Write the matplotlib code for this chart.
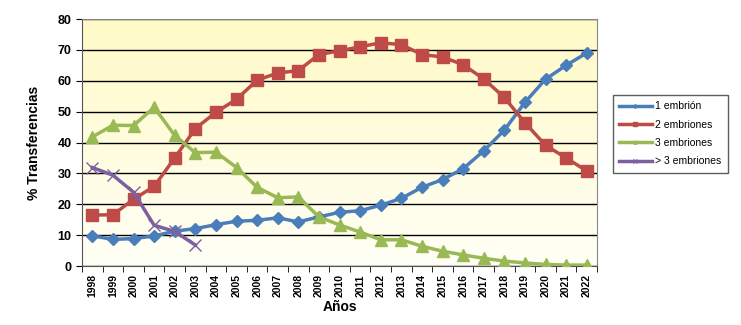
import numpy as np
import matplotlib
matplotlib.use("Agg")
from matplotlib import pyplot as plt

plt.rcParams['font.family'] = ['Liberation Sans', 'DejaVu Sans']

years = [str(y) for y in range(1998, 2023)]
uno = [9.8, 8.6, 8.9, 9.7, 11.3, 12.1, 13.4, 14.5, 14.8, 15.6, 14.3, 15.9, 17.4,
       17.9, 19.7, 21.9, 25.5, 28.0, 31.5, 37.3, 44.0, 53.0, 60.5, 65.0, 69.0]
dos = [16.5, 16.6, 21.6, 25.8, 35.0, 44.5, 49.8, 54.0, 60.2, 62.5, 63.3, 68.5, 69.7,
       71.0, 72.3, 71.7, 68.5, 67.7, 65.2, 60.6, 54.6, 46.4, 39.1, 35.0, 30.8]
tres = [41.8, 45.6, 45.5, 51.4, 42.3, 36.7, 36.9, 31.9, 25.5, 22.1, 22.4, 15.9, 13.3,
        11.0, 8.5, 8.5, 6.4, 4.8, 3.6, 2.5, 1.6, 1.0, 0.5, 0.3, 0.3]
mas3 = [31.9, 29.4, 23.9, 13.2, 11.2, 6.8]
series_names = ['1 embrión', '2 embriones', '3 embriones', '> 3 embriones']

fig = plt.figure(figsize=(7.41, 3.25), dpi=100)
ax = fig.add_axes([0.1107, 0.1815, 0.695, 0.76])

# yellow gradient background, pale yellow at top fading to white
grad = np.linspace(0, 1, 256).reshape(-1, 1)
cmap = matplotlib.colors.LinearSegmentedColormap.from_list(
    'bg', ['#FFFFF6', '#FFFAC6'])
ax.imshow(grad, cmap=cmap, aspect='auto', extent=[0, 1, 0, 1],
          transform=ax.transAxes, zorder=0, origin='lower')

x = np.arange(len(years))
ax.plot(x, uno, color='#4A7EBB', marker='D', markersize=6, lw=2.5,
        label=series_names[0], zorder=3)
ax.plot(x, dos, color='#BE4B48', marker='s', markersize=8, lw=2.5,
        label=series_names[1], zorder=3)
ax.plot(x, tres, color='#98B954', marker='^', markersize=8, lw=2.5,
        label=series_names[2], zorder=3)
ax.plot(x[:len(mas3)], mas3, color='#7D60A0', marker='x', markersize=8, lw=2.5,
        mew=1, label=series_names[3], zorder=3)

ax.set_xlim(-0.5, len(years) - 0.5)
ax.set_ylim(0, 80)
ax.set_yticks(range(0, 81, 10))
ax.yaxis.grid(True, color='black', lw=1)
ax.set_axisbelow(True)
ax.set_xticks(x)
ax.set_xticklabels(years, rotation=90, fontsize=7.5, fontweight='bold')
ax.set_xticks(np.arange(-0.5, len(years), 1), minor=True)
ax.tick_params(axis='x', which='major', length=0, pad=6)
ax.tick_params(axis='x', which='minor', length=4, direction='out')
ax.tick_params(axis='y', labelsize=9, length=4, direction='out')
for lab in ax.get_yticklabels():
    lab.set_fontweight('bold')

for side in ['top', 'right']:
    ax.spines[side].set_color('#888888')
ax.spines['left'].set_color('#555555')
ax.spines['bottom'].set_color('#555555')

ax.set_ylabel('% Transferencias', fontsize=10, fontweight='bold', labelpad=12)
ax.set_xlabel('Años', fontsize=10, fontweight='bold', labelpad=2)

leg = ax.legend(loc='center left', bbox_to_anchor=(1.02, 0.535), fontsize=7.5,
                frameon=True, fancybox=False, edgecolor='#333333',
                markerscale=0.3, handlelength=3.2, handletextpad=0.3,
                borderpad=0.6, labelspacing=0.8)
leg.get_frame().set_linewidth(1)

fig.savefig('out.png', dpi=100)
